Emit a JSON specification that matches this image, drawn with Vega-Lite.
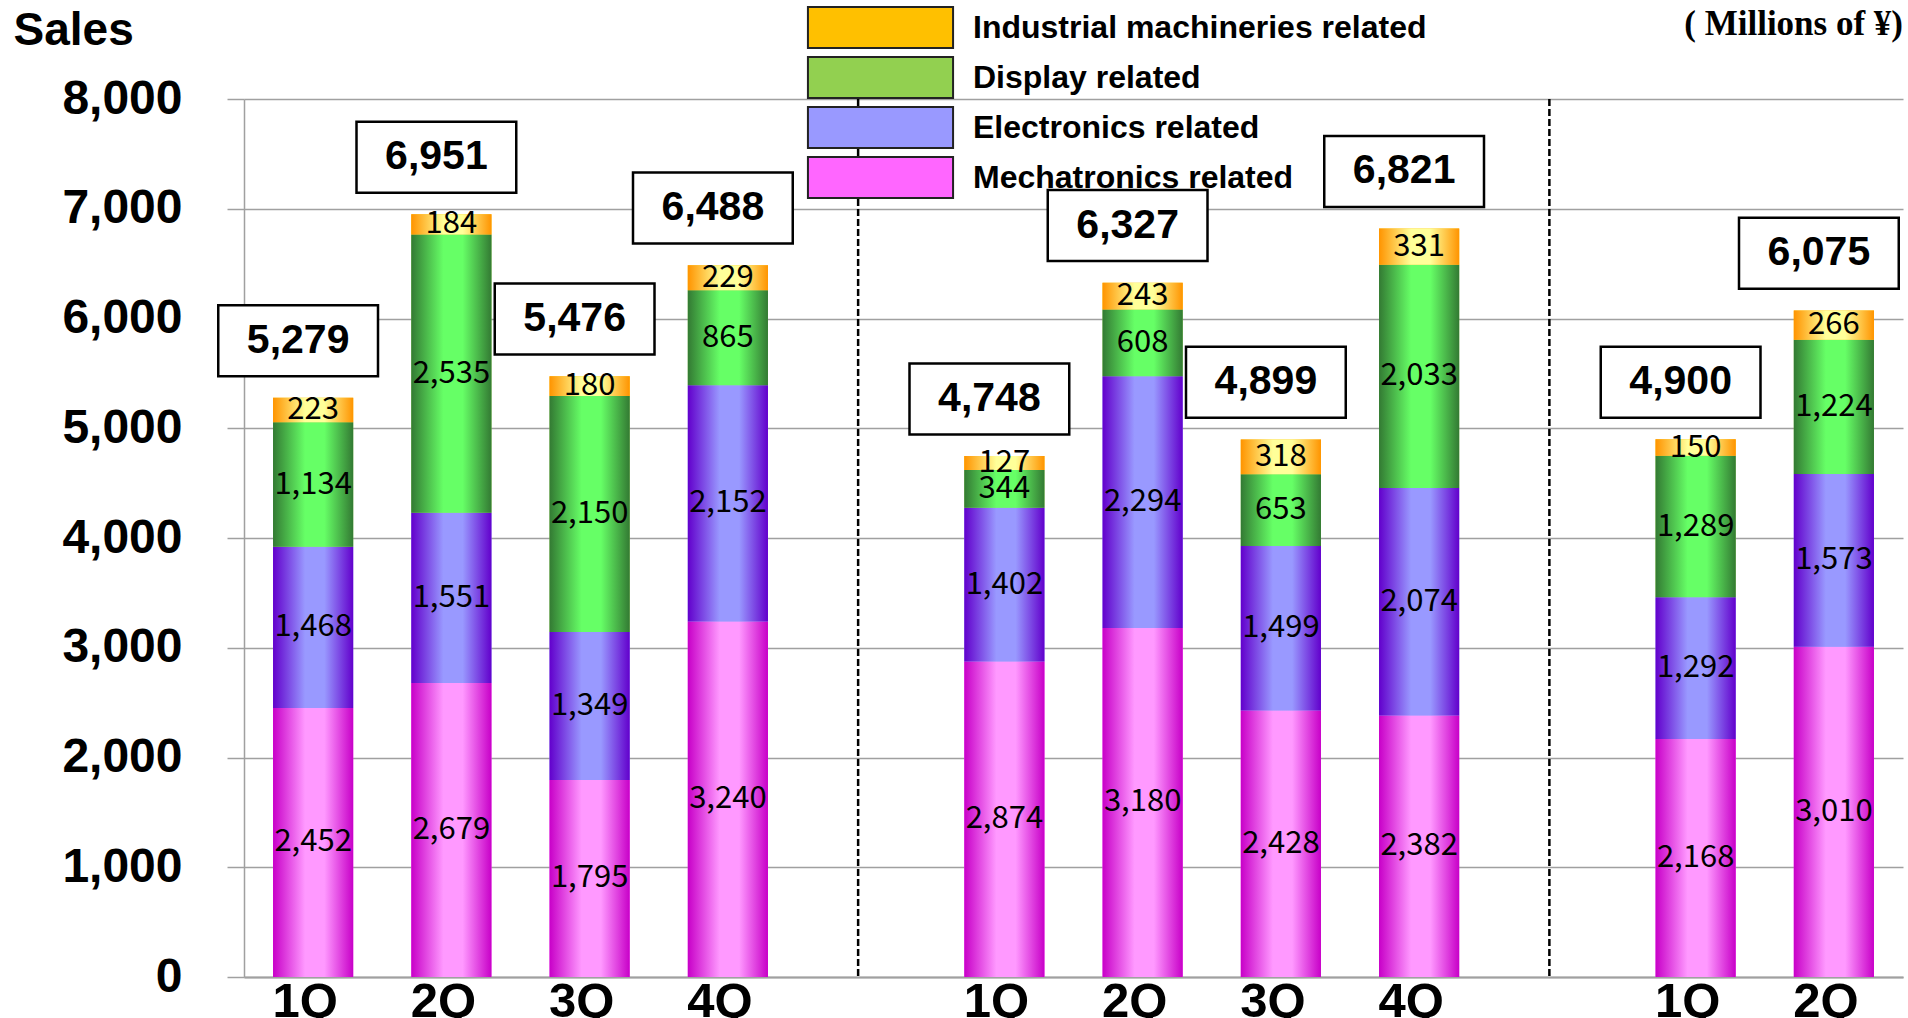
{
  "$schema": "https://vega.github.io/schema/vega-lite/v6.json",
  "width": 1659,
  "height": 878,
  "autosize": {"type": "none"},
  "padding": {"left": 244, "top": 99, "right": 5, "bottom": 41},
  "background": "white",
  "title": {"text": "( Millions of ¥)", "anchor": "end", "frame": "group", "orient": "top", "offset": -53, "font": "Liberation Serif", "fontSize": 35, "fontWeight": "bold", "color": "#000", "baseline": "middle"},
  "datasets": {
    "segments": [
      {"q": "A-1Q", "cat": "Mechatronics related", "value": 2452},
      {"q": "A-1Q", "cat": "Electronics related", "value": 1468},
      {"q": "A-1Q", "cat": "Display related", "value": 1134},
      {"q": "A-1Q", "cat": "Industrial machineries related", "value": 223},
      {"q": "A-2Q", "cat": "Mechatronics related", "value": 2679},
      {"q": "A-2Q", "cat": "Electronics related", "value": 1551},
      {"q": "A-2Q", "cat": "Display related", "value": 2535},
      {"q": "A-2Q", "cat": "Industrial machineries related", "value": 184},
      {"q": "A-3Q", "cat": "Mechatronics related", "value": 1795},
      {"q": "A-3Q", "cat": "Electronics related", "value": 1349},
      {"q": "A-3Q", "cat": "Display related", "value": 2150},
      {"q": "A-3Q", "cat": "Industrial machineries related", "value": 180},
      {"q": "A-4Q", "cat": "Mechatronics related", "value": 3240},
      {"q": "A-4Q", "cat": "Electronics related", "value": 2152},
      {"q": "A-4Q", "cat": "Display related", "value": 865},
      {"q": "A-4Q", "cat": "Industrial machineries related", "value": 229},
      {"q": "B-1Q", "cat": "Mechatronics related", "value": 2874},
      {"q": "B-1Q", "cat": "Electronics related", "value": 1402},
      {"q": "B-1Q", "cat": "Display related", "value": 344},
      {"q": "B-1Q", "cat": "Industrial machineries related", "value": 127},
      {"q": "B-2Q", "cat": "Mechatronics related", "value": 3180},
      {"q": "B-2Q", "cat": "Electronics related", "value": 2294},
      {"q": "B-2Q", "cat": "Display related", "value": 608},
      {"q": "B-2Q", "cat": "Industrial machineries related", "value": 243},
      {"q": "B-3Q", "cat": "Mechatronics related", "value": 2428},
      {"q": "B-3Q", "cat": "Electronics related", "value": 1499},
      {"q": "B-3Q", "cat": "Display related", "value": 653},
      {"q": "B-3Q", "cat": "Industrial machineries related", "value": 318},
      {"q": "B-4Q", "cat": "Mechatronics related", "value": 2382},
      {"q": "B-4Q", "cat": "Electronics related", "value": 2074},
      {"q": "B-4Q", "cat": "Display related", "value": 2033},
      {"q": "B-4Q", "cat": "Industrial machineries related", "value": 331},
      {"q": "C-1Q", "cat": "Mechatronics related", "value": 2168},
      {"q": "C-1Q", "cat": "Electronics related", "value": 1292},
      {"q": "C-1Q", "cat": "Display related", "value": 1289},
      {"q": "C-1Q", "cat": "Industrial machineries related", "value": 150},
      {"q": "C-2Q", "cat": "Mechatronics related", "value": 3010},
      {"q": "C-2Q", "cat": "Electronics related", "value": 1573},
      {"q": "C-2Q", "cat": "Display related", "value": 1224},
      {"q": "C-2Q", "cat": "Industrial machineries related", "value": 266}
    ],
    "totals": [
      {"q": "A-1Q", "total": 5279},
      {"q": "A-2Q", "total": 6951},
      {"q": "A-3Q", "total": 5476},
      {"q": "A-4Q", "total": 6488},
      {"q": "B-1Q", "total": 4748},
      {"q": "B-2Q", "total": 6327},
      {"q": "B-3Q", "total": 4899},
      {"q": "B-4Q", "total": 6821},
      {"q": "C-1Q", "total": 4900},
      {"q": "C-2Q", "total": 6075}
    ],
    "seps": [
      {"q": "A|"},
      {"q": "B|"}
    ]
  },
  "encoding": {
    "x": {
      "field": "q",
      "type": "nominal",
      "scale": {
        "domain": ["A-1Q", "A-2Q", "A-3Q", "A-4Q", "A|", "B-1Q", "B-2Q", "B-3Q", "B-4Q", "B|", "C-1Q", "C-2Q"],
        "paddingInner": 0.42,
        "paddingOuter": 0.21
      },
      "axis": {
        "title": null,
        "labelExpr": "indexof(datum.value, 'Q') >= 0 ? substring(datum.value, 2) : ''",
        "labelAngle": 0,
        "labelFont": "Liberation Sans",
        "labelFontSize": 49,
        "labelFontWeight": "bold",
        "labelColor": "#000",
        "labelPadding": 0,
        "labelOffset": -8,
        "ticks": false,
        "grid": false,
        "domainColor": "#A0A0A0",
        "domainWidth": 2
      }
    }
  },
  "layer": [
    {
      "data": {"name": "segments"},
      "transform": [
        {"stack": "value", "groupby": ["q"], "as": ["y0", "y1"]}
      ],
      "mark": {"type": "bar"},
      "encoding": {
        "y": {
          "field": "y0",
          "type": "quantitative",
          "scale": {"domain": [0, 8000], "nice": false},
          "axis": {
            "title": "Sales",
            "titleAngle": 0,
            "titleX": -231,
            "titleY": -69,
            "titleAlign": "left",
            "titleBaseline": "middle",
            "titleFont": "Liberation Sans",
            "titleFontSize": 46,
            "titleFontWeight": "bold",
            "titleColor": "#000",
            "values": [0, 1000, 2000, 3000, 4000, 5000, 6000, 7000, 8000],
            "labelExpr": "format(datum.value, ',')",
            "labelFont": "Liberation Sans",
            "labelFontSize": 48,
            "labelFontWeight": "bold",
            "labelColor": "#000",
            "labelPadding": 45,
            "labelOverlap": false,
            "tickSize": 17,
            "tickColor": "#A0A0A0",
            "tickWidth": 1.5,
            "grid": true,
            "gridColor": "#A0A0A0",
            "gridWidth": 1.5,
            "domainColor": "#A0A0A0",
            "domainWidth": 1.5
          }
        },
        "y2": {"field": "y1"},
        "color": {
          "field": "cat",
          "type": "nominal",
          "scale": {
            "domain": ["Industrial machineries related", "Display related", "Electronics related", "Mechatronics related"],
            "range": ["#FFC000", "#92D050", "#9999FF", "#FF66FF"]
          },
          "legend": {
            "orient": "none",
            "legendX": 615,
            "legendY": -93,
            "title": null,
            "symbolType": "M-3.54,-1H3.54V1H-3.54Z",
            "symbolSize": 1681,
            "symbolStrokeColor": "#222",
            "symbolStrokeWidth": 2,
            "symbolOpacity": 1,
            "labelFont": "Liberation Sans",
            "labelFontSize": 32,
            "labelFontWeight": "bold",
            "labelColor": "#000",
            "labelOffset": 71,
            "labelLimit": 0,
            "rowPadding": 1,
            "padding": 0
          }
        }
      }
    },
    {
      "data": {"name": "segments"},
      "transform": [
        {"stack": "value", "groupby": ["q"], "as": ["y0", "y1"]},
        {"filter": "datum.cat == 'Mechatronics related'"}
      ],
      "mark": {"type": "bar", "fill": {"gradient": "linear", "x1": 0, "y1": 0, "x2": 1, "y2": 0, "stops": [{"offset": 0, "color": "#C800C8"}, {"offset": 0.4, "color": "#FF99FF"}, {"offset": 0.64, "color": "#FF99FF"}, {"offset": 1, "color": "#C800C8"}]}},
      "encoding": {
        "y": {"field": "y0", "type": "quantitative"},
        "y2": {"field": "y1"}
      }
    },
    {
      "data": {"name": "segments"},
      "transform": [
        {"stack": "value", "groupby": ["q"], "as": ["y0", "y1"]},
        {"filter": "datum.cat == 'Electronics related'"}
      ],
      "mark": {"type": "bar", "fill": {"gradient": "linear", "x1": 0, "y1": 0, "x2": 1, "y2": 0, "stops": [{"offset": 0, "color": "#6200CC"}, {"offset": 0.4, "color": "#9999FF"}, {"offset": 0.64, "color": "#9999FF"}, {"offset": 1, "color": "#6200CC"}]}},
      "encoding": {
        "y": {"field": "y0", "type": "quantitative"},
        "y2": {"field": "y1"}
      }
    },
    {
      "data": {"name": "segments"},
      "transform": [
        {"stack": "value", "groupby": ["q"], "as": ["y0", "y1"]},
        {"filter": "datum.cat == 'Display related'"}
      ],
      "mark": {"type": "bar", "fill": {"gradient": "linear", "x1": 0, "y1": 0, "x2": 1, "y2": 0, "stops": [{"offset": 0, "color": "#337A33"}, {"offset": 0.4, "color": "#66FF66"}, {"offset": 0.64, "color": "#66FF66"}, {"offset": 1, "color": "#337A33"}]}},
      "encoding": {
        "y": {"field": "y0", "type": "quantitative"},
        "y2": {"field": "y1"}
      }
    },
    {
      "data": {"name": "segments"},
      "transform": [
        {"stack": "value", "groupby": ["q"], "as": ["y0", "y1"]},
        {"filter": "datum.cat == 'Industrial machineries related'"}
      ],
      "mark": {"type": "bar", "fill": {"gradient": "linear", "x1": 0, "y1": 0, "x2": 1, "y2": 0, "stops": [{"offset": 0, "color": "#FF9400"}, {"offset": 0.4, "color": "#FFFF99"}, {"offset": 0.64, "color": "#FFFF99"}, {"offset": 1, "color": "#FF9400"}]}},
      "encoding": {
        "y": {"field": "y0", "type": "quantitative"},
        "y2": {"field": "y1"}
      }
    },
    {
      "data": {"name": "segments"},
      "transform": [
        {"stack": "value", "groupby": ["q"], "as": ["y0", "y1"]},
        {"fold": ["y0", "y1"], "as": ["end", "pos"]},
        {"aggregate": [{"op": "mean", "field": "pos", "as": "mid"}], "groupby": ["q", "cat", "value"]}
      ],
      "mark": {"type": "text", "font": "Noto Sans CJK JP", "fontSize": 31, "color": "#000", "baseline": "middle", "align": "center"},
      "encoding": {
        "y": {"field": "mid", "type": "quantitative"},
        "text": {"field": "value", "type": "quantitative", "format": ","}
      }
    },
    {
      "data": {"name": "seps"},
      "mark": {"type": "rule", "color": "#000", "strokeWidth": 2.5, "strokeDash": [7, 3], "xOffset": -8},
      "encoding": {
        "y": {"datum": 8000, "type": "quantitative"},
        "y2": {"datum": 0}
      }
    },
    {
      "data": {"name": "totals"},
      "mark": {"type": "point", "filled": true, "shape": "M-2.25,-1H2.25V1H-2.25Z", "size": 5041, "fill": "#FFFFFF", "stroke": "#000", "strokeWidth": 2.5, "opacity": 1, "fillOpacity": 1, "xOffset": -15, "yOffset": -57},
      "encoding": {
        "y": {"field": "total", "type": "quantitative"}
      }
    },
    {
      "data": {"name": "totals"},
      "mark": {"type": "text", "font": "Liberation Sans", "fontSize": 41, "fontWeight": "bold", "color": "#000", "baseline": "middle", "align": "center", "xOffset": -15, "yOffset": -57},
      "encoding": {
        "y": {"field": "total", "type": "quantitative"},
        "text": {"field": "total", "type": "quantitative", "format": ","}
      }
    }
  ],
  "config": {
    "view": {"stroke": null}
  }
}
